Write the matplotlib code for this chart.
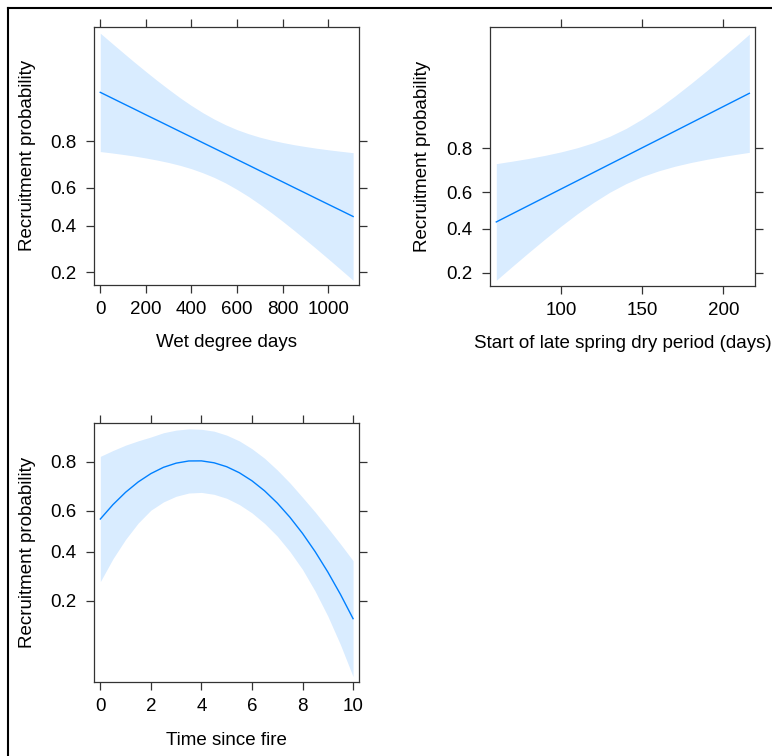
import matplotlib
matplotlib.use('Agg')
import matplotlib.pyplot as plt
from matplotlib.lines import Line2D
from matplotlib.ticker import NullLocator

plt.rcParams['font.family'] = ['Liberation Sans', 'DejaVu Sans']

# effect of wet degree days (probabilities, with 95% band)
wdd = [0, 50, 100, 150, 200, 250, 300, 350, 400, 450, 500, 550, 600, 650, 700, 750,
       800, 850, 900, 950, 1000, 1050, 1110]
wdd_fit = [0.9186, 0.9093, 0.8990, 0.8878, 0.8753, 0.8619, 0.8472, 0.8312, 0.8140, 0.7953,
           0.7754, 0.7542, 0.7315, 0.7077, 0.6824, 0.6563, 0.6293, 0.6011, 0.5725, 0.5431,
           0.5137, 0.4843, 0.4489]
wdd_lo = [0.7631, 0.7579, 0.7519, 0.7454, 0.7377, 0.7289, 0.7187, 0.7064, 0.6915, 0.6728,
          0.6507, 0.6236, 0.5912, 0.5548, 0.5137, 0.4700, 0.4246, 0.3785, 0.3333, 0.2903,
          0.2501, 0.2133, 0.1742]
wdd_hi = [0.9753, 0.9698, 0.9632, 0.9553, 0.9461, 0.9354, 0.9233, 0.9097, 0.8952, 0.8801,
          0.8650, 0.8504, 0.8368, 0.8247, 0.8138, 0.8044, 0.7961, 0.7885, 0.7819, 0.7756,
          0.7700, 0.7648, 0.7588]

# start of late spring dry period
dry = [60, 70, 80, 90, 100, 110, 120, 130, 140, 150, 160, 170, 180, 190, 200, 208, 216]
dry_fit = [0.4366, 0.4823, 0.5281, 0.5735, 0.6178, 0.6600, 0.7000, 0.7371, 0.7710, 0.8019,
           0.8293, 0.8538, 0.8753, 0.8940, 0.9102, 0.9215, 0.9315]
dry_lo = [0.1745, 0.2242, 0.2819, 0.3463, 0.4144, 0.4820, 0.5451, 0.6004, 0.6454, 0.6806,
          0.7072, 0.7280, 0.7444, 0.7579, 0.7694, 0.7775, 0.7850]
dry_hi = [0.7396, 0.7503, 0.7613, 0.7735, 0.7869, 0.8020, 0.8194, 0.8395, 0.8616, 0.8849,
          0.9072, 0.9273, 0.9442, 0.9578, 0.9686, 0.9753, 0.9807]

# time since fire
tsf = [0, 0.5, 1, 1.5, 2, 2.5, 3, 3.5, 4, 4.5, 5, 5.5, 6, 6.5, 7, 7.5, 8, 8.5, 9, 9.5, 10]
tsf_fit = [0.5604, 0.6295, 0.6850, 0.7277, 0.7593, 0.7815, 0.7953, 0.8023, 0.8026, 0.7965,
           0.7835, 0.7624, 0.7321, 0.6909, 0.6369, 0.5693, 0.4890, 0.3994, 0.3072, 0.2211,
           0.1487]
tsf_lo = [0.2676, 0.3659, 0.4593, 0.5407, 0.6032, 0.6420, 0.6675, 0.6816, 0.6842, 0.6759,
          0.6584, 0.6297, 0.5902, 0.5384, 0.4755, 0.3999, 0.3178, 0.2319, 0.1554, 0.0942,
          0.0521]
tsf_hi = [0.8165, 0.8334, 0.8477, 0.8585, 0.8675, 0.8770, 0.8825, 0.8850, 0.8842, 0.8803,
          0.8717, 0.8583, 0.8382, 0.8106, 0.7724, 0.7239, 0.6628, 0.5944, 0.5167, 0.4369,
          0.3571]

prob_ticks = [0.2, 0.4, 0.6, 0.8]
prob_labels = ['0.2', '0.4', '0.6', '0.8']

LINE = '#0080ff'
AXC = '#333333'
FS = 13.5


def panel(ax, x, fit, lo, hi, xticks, xlabel, xlim, ylim):
    ax.fill_between(x, lo, hi, color=LINE, alpha=0.15, lw=0)
    ax.plot(x, fit, color=LINE, lw=1.0)
    ax.set_yscale('logit')
    ax.set_xlim(xlim)
    ax.set_ylim(ylim)
    ax.set_xticks(xticks)
    ax.set_xticklabels([str(v) for v in xticks])
    ax.set_yticks(prob_ticks)
    ax.set_yticklabels(prob_labels)
    ax.yaxis.set_minor_locator(NullLocator())
    ax.xaxis.set_minor_locator(NullLocator())
    ax.tick_params(direction='out', length=6.1, width=0.9, color=AXC,
                   top=True, right=True, labelsize=FS, labelcolor='black')
    ax.tick_params(axis='x', pad=5.5)
    ax.tick_params(axis='y', pad=7)
    for s in ax.spines.values():
        s.set_color(AXC)
        s.set_linewidth(0.9)
    ax.set_xlabel(xlabel, fontsize=FS)
    ax.set_ylabel('Recruitment probability', fontsize=FS)
    ax.xaxis.set_label_coords(0.5, -0.19)
    ax.yaxis.set_label_coords(-0.222, 0.5)


fig = plt.figure(figsize=(7.72, 7.56), dpi=100)

ax1 = fig.add_axes([0.1222, 0.6230, 0.3429, 0.3417])
panel(ax1, wdd, wdd_fit, wdd_lo, wdd_hi, [0, 200, 400, 600, 800, 1000],
      'Wet degree days', (-26, 1136), (0.1604, 0.9784))

ax2 = fig.add_axes([0.6351, 0.6221, 0.3433, 0.3426])
panel(ax2, dry, dry_fit, dry_lo, dry_hi, [100, 150, 200],
      'Start of late spring dry period (days)', (56.3, 219.7), (0.1578, 0.9836))

ax3 = fig.add_axes([0.1222, 0.0975, 0.3429, 0.3426])
panel(ax3, tsf, tsf_fit, tsf_lo, tsf_hi, [0, 2, 4, 6, 8, 10],
      'Time since fire', (-0.237, 10.237), (0.0468, 0.8959))

# outer frame (top and left edges)
x0 = 7.5 / 772
y0 = 1 - 7.5 / 756
fig.add_artist(Line2D([x0, 1.01], [y0, y0], transform=fig.transFigure, color='black', lw=1.5))
fig.add_artist(Line2D([x0, x0], [-0.01, y0], transform=fig.transFigure, color='black', lw=1.5))

fig.savefig('out.png', dpi=100)
